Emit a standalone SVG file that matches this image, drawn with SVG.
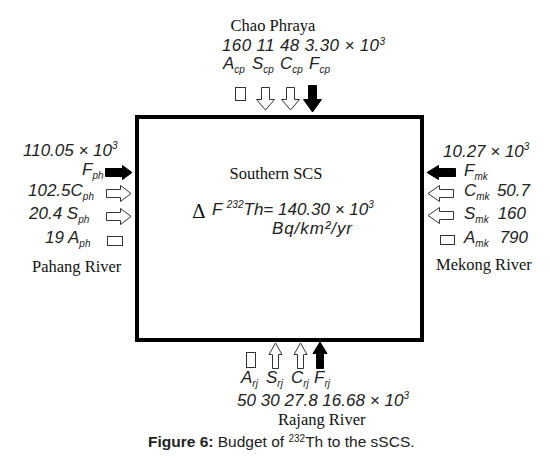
<svg xmlns="http://www.w3.org/2000/svg" width="550" height="466" viewBox="0 0 550 466">
<style>
.serif{font-family:"Liberation Serif","Times New Roman",serif;font-size:16.5px;fill:#111}
.it{font-family:"Liberation Sans",Arial,sans-serif;font-style:italic;font-size:17px;fill:#222}
.sub{font-size:10px}
.sup{font-size:10px}
.cap{font-family:"Liberation Sans",Arial,sans-serif;font-size:15.5px;fill:#222}
.wa{fill:#fff;stroke:#333;stroke-width:1}
.ba{fill:#000;stroke:#000;stroke-width:1}
.sq{fill:#fff;stroke:#333;stroke-width:1}
</style>
<rect width="550" height="466" fill="#fff"/>
<g id="southern-scs">
<rect x="137" y="117" width="285" height="223" fill="#fff" stroke="#000" stroke-width="4"/>
<text class="serif" x="276" y="179" text-anchor="middle" font-size="17">Southern SCS</text>
<text x="192" y="218" font-family="'DejaVu Serif',serif" font-size="19" fill="#111">Δ</text>
<text class="it" x="212" y="215">F <tspan class="sup" dy="-7">232</tspan><tspan dy="7">Th= 140.30 × 10</tspan><tspan class="sup" dy="-7">3</tspan></text>
<text class="it" x="272" y="234" textLength="80">Bq/km²/yr</text>
</g>
<g id="chao-phraya">
<text class="serif" x="273" y="31" text-anchor="middle">Chao Phraya</text>
<text class="it" x="222" y="51" font-size="16.5" textLength="163">160 11 48 3.30 × 10<tspan class="sup" dy="-6">3</tspan></text>
<text class="it" y="69" font-size="16.5"><tspan x="223">A</tspan><tspan class="sub" dy="4">cp</tspan><tspan x="252" dy="-4">S</tspan><tspan class="sub" dy="4">cp</tspan><tspan x="280" dy="-4">C</tspan><tspan class="sub" dy="4">cp</tspan><tspan x="309" dy="-4">F</tspan><tspan class="sub" dy="4">cp</tspan></text>
<rect class="sq" x="235.5" y="87.5" width="10" height="13"/>
<path class="wa" d="M261.5,87.5 H269.5 V99.5 H274.5 L265.5,110 L256.5,99.5 H261.5 Z"/>
<path class="wa" d="M286.5,87.5 H294.5 V99.5 H299.5 L290.5,110 L281.5,99.5 H286.5 Z"/>
<path class="ba" d="M308.5,85.5 H316.5 V99.5 H321.5 L312.5,112 L303.5,99.5 H308.5 Z"/>
</g>
<g id="pahang-river">
<text class="it" x="23" y="156">110.05 × 10<tspan class="sup" dy="-7">3</tspan></text>
<text class="it" x="82" y="175">F<tspan class="sub" dy="4">ph</tspan></text>
<text class="it" x="28" y="196">102.5C<tspan class="sub" dy="4">ph</tspan></text>
<text class="it" x="29" y="219">20.4 S<tspan class="sub" dy="4">ph</tspan></text>
<text class="it" x="45" y="243">19 A<tspan class="sub" dy="4">ph</tspan></text>
<text class="serif" x="32" y="272">Pahang River</text>
<path class="ba" d="M105.5,168.5 H122.5 V165.5 L132,172.5 L122.5,179.5 V176.5 H105.5 Z"/>
<path class="wa" d="M106.5,189.5 H120.5 V185.5 L131,193.5 L120.5,201.5 V197.5 H106.5 Z"/>
<path class="wa" d="M106.5,212.5 H120.5 V208.5 L131,216.5 L120.5,224.5 V220.5 H106.5 Z"/>
<rect class="sq" x="107.5" y="236.5" width="15" height="9"/>
</g>
<g id="mekong-river">
<text class="it" x="443" y="157">10.27 × 10<tspan class="sup" dy="-7">3</tspan></text>
<text class="it" x="464" y="176">F<tspan class="sub" dy="4">mk</tspan></text>
<text class="it" x="464" y="196">C<tspan class="sub" dy="4">mk</tspan></text>
<text class="it" x="464" y="219">S<tspan class="sub" dy="4">mk</tspan></text>
<text class="it" x="464" y="243">A<tspan class="sub" dy="4">mk</tspan></text>
<text class="it" x="530" y="196" text-anchor="end">50.7</text>
<text class="it" x="526" y="219" text-anchor="end">160</text>
<text class="it" x="528" y="243" text-anchor="end">790</text>
<text class="serif" x="436" y="270">Mekong River</text>
<path class="ba" d="M455.5,168.5 H438.5 V165.5 L427,172.5 L438.5,179.5 V176.5 H455.5 Z"/>
<path class="wa" d="M453.5,189.5 H439.5 V185.5 L428,193.5 L439.5,201.5 V197.5 H453.5 Z"/>
<path class="wa" d="M453.5,211.5 H439.5 V207.5 L428,215.5 L439.5,223.5 V219.5 H453.5 Z"/>
<rect class="sq" x="440.5" y="235.5" width="14" height="9"/>
</g>
<g id="rajang-river">
<rect class="sq" x="246.5" y="352.5" width="9" height="15"/>
<path class="wa" d="M272.5,368.5 V354.5 H269 L275.5,343 L282,354.5 H278.5 V368.5 Z"/>
<path class="wa" d="M297.5,368.5 V354.5 H294 L300.5,343 L307,354.5 H303.5 V368.5 Z"/>
<path class="ba" d="M316.5,368.5 V353.5 H313 L320,342 L327,353.5 H323.5 V368.5 Z"/>
<text class="it" y="383"><tspan x="241">A</tspan><tspan class="sub" dy="4">rj</tspan><tspan x="266" dy="-4">S</tspan><tspan class="sub" dy="4">rj</tspan><tspan x="291" dy="-4">C</tspan><tspan class="sub" dy="4">rj</tspan><tspan x="314" dy="-4">F</tspan><tspan class="sub" dy="4">rj</tspan></text>
<text class="it" x="237" y="406" textLength="172">50 30 27.8 16.68 × 10<tspan class="sup" dy="-7">3</tspan></text>
<text class="serif" x="278" y="425">Rajang River</text>
</g>
<g id="connectors"></g>
<text class="cap" x="148" y="447"><tspan font-weight="bold">Figure 6:</tspan> Budget of <tspan font-size="10" dy="-5">232</tspan><tspan dy="5">Th to the sSCS.</tspan></text>
</svg>
